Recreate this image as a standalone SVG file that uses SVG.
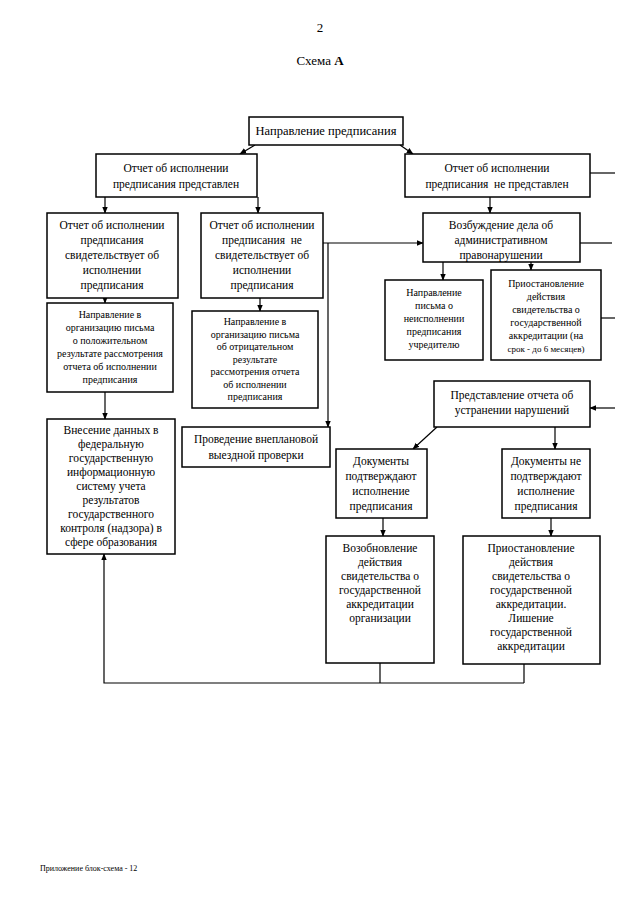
<svg xmlns="http://www.w3.org/2000/svg" width="640" height="905" viewBox="0 0 640 905">
<style>
.b{fill:#fff;stroke:#000;stroke-width:1.5}
.t{font-family:"Liberation Serif","Times New Roman",serif;fill:#000;text-anchor:middle}
.s11{font-size:11.5px}
.s10{font-size:10px}
.c{fill:none;stroke:#000;stroke-width:1.2}
</style>
<defs>
<marker id="ar" viewBox="0 0 10 10" refX="9" refY="5" markerWidth="7" markerHeight="7" orient="auto" markerUnits="userSpaceOnUse">
<path d="M0,1 L10,5 L0,9 z" fill="#000"/>
</marker>
</defs>
<rect width="640" height="905" fill="#fff"/>
<text class="t" x="320" y="32" font-size="13">2</text>
<text class="t" x="320" y="65" font-size="13">Схема <tspan font-weight="bold">А</tspan></text>

<g id="connectors">
<path class="c" d="M255,145 L240,154" marker-end="url(#ar)"/>
<path class="c" d="M400,145 L413,154" marker-end="url(#ar)"/>
<path class="c" d="M105,197 L105,213" marker-end="url(#ar)"/>
<path class="c" d="M258,197 L258,213" marker-end="url(#ar)"/>
<path class="c" d="M105,298 L105,303" marker-end="url(#ar)"/>
<path class="c" d="M105,392 L105,419" marker-end="url(#ar)"/>
<path class="c" d="M260,298 L260,311" marker-end="url(#ar)"/>
<path class="c" d="M323,243 L423,243" marker-end="url(#ar)"/>
<path class="c" d="M328,243 L328,427" marker-end="url(#ar)"/>
<path class="c" d="M490,197 L490,213" marker-end="url(#ar)"/>
<path class="c" d="M443,262 L443,280" marker-end="url(#ar)"/>
<path class="c" d="M531,262 L531,270" marker-end="url(#ar)"/>
<path class="c" d="M590,173 L615,173"/>
<path class="c" d="M580,243 L612,243"/>
<path class="c" d="M601,318 L615,318"/>
<path class="c" d="M615,408 L590,408" marker-end="url(#ar)"/>
<path class="c" d="M437,427 L413,449" marker-end="url(#ar)"/>
<path class="c" d="M555,427 L555,449" marker-end="url(#ar)"/>
<path class="c" d="M383,518 L383,536" marker-end="url(#ar)"/>
<path class="c" d="M551,518 L551,536" marker-end="url(#ar)"/>
<path class="c" d="M380,663 L380,683 M524,664 L524,683 M524,683 L104,683 L104,554" marker-end="url(#ar)"/>
</g>

<g id="nA"><rect class="b" x="249" y="117" width="154" height="28"/>
<text class="t" x="326" y="135" font-size="12.5">Направление предписания</text></g>

<g id="nB"><rect class="b" x="96" y="154" width="161" height="43"/>
<text class="t s11" x="176" y="172">Отчет об исполнении</text>
<text class="t s11" x="176" y="188">предписания представлен</text></g>

<g id="nC"><rect class="b" x="405" y="154" width="185" height="43"/>
<text class="t s11" x="497" y="172">Отчет об исполнении</text>
<text class="t s11" x="497" y="188" xml:space="preserve">предписания  не представлен</text></g>

<g id="nD"><rect class="b" x="47" y="213" width="131" height="85"/>
<text class="t s11" x="112" y="229">Отчет об исполнении</text>
<text class="t s11" x="112" y="244">предписания</text>
<text class="t s11" x="112" y="259">свидетельствует об</text>
<text class="t s11" x="112" y="274">исполнении</text>
<text class="t s11" x="112" y="289">предписания</text></g>

<g id="nE"><rect class="b" x="201" y="213" width="122" height="85"/>
<text class="t s11" x="262" y="229">Отчет об исполнении</text>
<text class="t s11" x="262" y="244" xml:space="preserve">предписания  не</text>
<text class="t s11" x="262" y="259">свидетельствует об</text>
<text class="t s11" x="262" y="274">исполнении</text>
<text class="t s11" x="262" y="289">предписания</text></g>

<g id="nF"><rect class="b" x="423" y="213" width="157" height="49"/>
<text class="t s11" x="501" y="229">Возбуждение дела об</text>
<text class="t s11" x="501" y="244">административном</text>
<text class="t s11" x="501" y="259">правонарушении</text></g>

<g id="nH"><rect class="b" x="385" y="280" width="98" height="80"/>
<text class="t s10" x="434" y="296">Направление</text>
<text class="t s10" x="434" y="309">письма о</text>
<text class="t s10" x="434" y="322">неисполнении</text>
<text class="t s10" x="434" y="335">предписания</text>
<text class="t s10" x="434" y="348">учредителю</text></g>

<g id="nG"><rect class="b" x="491" y="270" width="110" height="90"/>
<text class="t s10" x="546" y="287">Приостановление</text>
<text class="t s10" x="546" y="300">действия</text>
<text class="t s10" x="546" y="313">свидетельства о</text>
<text class="t s10" x="546" y="326">государственной</text>
<text class="t s10" x="546" y="339">аккредитации (на</text>
<text class="t" x="546" y="352" font-size="9">срок - до 6 месяцев)</text></g>

<g id="nJ"><rect class="b" x="47" y="303" width="126" height="89"/>
<text class="t s10" x="110" y="318">Направление в</text>
<text class="t s10" x="110" y="331">организацию письма</text>
<text class="t s10" x="110" y="344">о положительном</text>
<text class="t s10" x="110" y="357">результате рассмотрения</text>
<text class="t s10" x="110" y="370">отчета об исполнении</text>
<text class="t s10" x="110" y="383">предписания</text></g>

<g id="nL"><rect class="b" x="192" y="311" width="126" height="97"/>
<text class="t s10" x="255" y="325">Направление в</text>
<text class="t s10" x="255" y="337.5">организацию письма</text>
<text class="t s10" x="255" y="350">об отрицательном</text>
<text class="t s10" x="255" y="362.5">результате</text>
<text class="t s10" x="255" y="375">рассмотрения отчета</text>
<text class="t s10" x="255" y="387.5">об исполнении</text>
<text class="t s10" x="255" y="400">предписания</text></g>

<g id="nK"><rect class="b" x="47" y="419" width="128" height="135"/>
<text class="t s11" x="111" y="434">Внесение данных в</text>
<text class="t s11" x="111" y="448">федеральную</text>
<text class="t s11" x="111" y="462">государственную</text>
<text class="t s11" x="111" y="476">информационную</text>
<text class="t s11" x="111" y="490">систему учета</text>
<text class="t s11" x="111" y="504">результатов</text>
<text class="t s11" x="111" y="518">государственного</text>
<text class="t s11" x="111" y="532">контроля (надзора) в</text>
<text class="t s11" x="111" y="546">сфере образования</text></g>

<g id="nI"><rect class="b" x="182" y="427" width="148" height="40"/>
<text class="t s11" x="256" y="443">Проведение внеплановой</text>
<text class="t s11" x="256" y="459">выездной проверки</text></g>

<g id="nM"><rect class="b" x="434" y="381" width="156" height="46"/>
<text class="t s11" x="512" y="399">Представление отчета об</text>
<text class="t s11" x="512" y="414">устранении нарушений</text></g>

<g id="nN"><rect class="b" x="336" y="449" width="91" height="69"/>
<text class="t s11" x="381" y="465">Документы</text>
<text class="t s11" x="381" y="480">подтверждают</text>
<text class="t s11" x="381" y="495">исполнение</text>
<text class="t s11" x="381" y="510">предписания</text></g>

<g id="nO"><rect class="b" x="502" y="449" width="88" height="69"/>
<text class="t s11" x="546" y="465">Документы не</text>
<text class="t s11" x="546" y="480">подтверждают</text>
<text class="t s11" x="546" y="495">исполнение</text>
<text class="t s11" x="546" y="510">предписания</text></g>

<g id="nP"><rect class="b" x="326" y="536" width="108" height="127"/>
<text class="t s11" x="380" y="552">Возобновление</text>
<text class="t s11" x="380" y="566">действия</text>
<text class="t s11" x="380" y="580">свидетельства о</text>
<text class="t s11" x="380" y="594">государственной</text>
<text class="t s11" x="380" y="608">аккредитации</text>
<text class="t s11" x="380" y="622">организации</text></g>

<g id="nQ"><rect class="b" x="463" y="536" width="137" height="128"/>
<text class="t s11" x="531" y="552">Приостановление</text>
<text class="t s11" x="531" y="566">действия</text>
<text class="t s11" x="531" y="580">свидетельства о</text>
<text class="t s11" x="531" y="594">государственной</text>
<text class="t s11" x="531" y="608">аккредитации.</text>
<text class="t s11" x="531" y="622">Лишение</text>
<text class="t s11" x="531" y="636">государственной</text>
<text class="t s11" x="531" y="650">аккредитации</text></g>

<text x="40" y="871" font-family="Liberation Serif, serif" font-size="8">Приложение блок-схема - 12</text>
</svg>
